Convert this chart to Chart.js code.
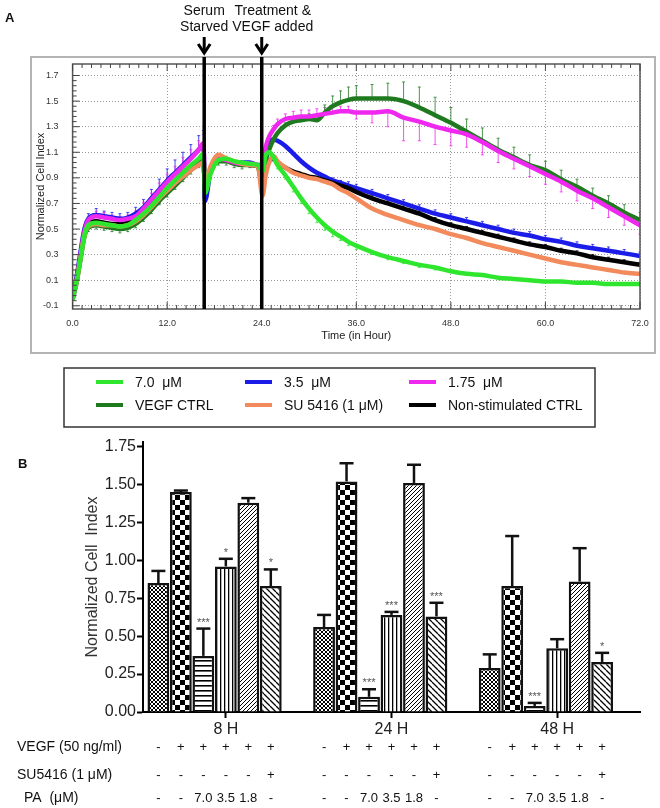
<!DOCTYPE html>
<html>
<head>
<meta charset="utf-8">
<script src="https://cdn.jsdelivr.net/npm/chart.js@4.4.1/dist/chart.umd.min.js"></script>
<style>
  html, body { margin: 0; padding: 0; background: #fff; }
  body { width: 660px; height: 808px; position: relative; overflow: hidden; }
  #cellA { position: absolute; left: 0; top: 0; }
  #cellB { position: absolute; left: 0; top: 430px; }
</style>
</head>
<body>
<canvas id="cellA" width="660" height="440"></canvas>
<canvas id="cellB" width="660" height="378"></canvas>
<script>
// ---- Panel A : real-time cell index ----
const hours = [0, 0.5, 1, 1.5, 2, 3, 4, 5, 6, 7, 8, 9, 10, 11, 12, 13, 14, 15, 16, 16.6,
  16.8, 17.5, 18.5, 19.5, 20.5, 21.5, 22.5, 23.5,
  24.1, 24.5, 25, 25.5, 26, 27, 28, 29, 30, 31, 32, 33, 34, 35, 36,
  38, 40, 42, 44, 46, 48, 50, 52, 54, 56, 58, 60, 62, 64, 66, 68, 70, 72];

const pa70 = [-0.05, 0.09, 0.27, 0.45, 0.53, 0.55, 0.54, 0.53, 0.52, 0.53, 0.57, 0.62, 0.68, 0.75, 0.82, 0.88, 0.94, 1.0, 1.05, 1.09,
  0.78, 0.93, 1.04, 1.05, 1.03, 1.02, 1.01, 1.0,
  0.95, 1.08, 1.1, 1.06, 1.0, 0.92, 0.83, 0.74, 0.66, 0.59, 0.53, 0.48, 0.44, 0.4, 0.37,
  0.32, 0.28, 0.25, 0.22, 0.2, 0.17, 0.15, 0.14, 0.12, 0.11, 0.1, 0.09, 0.09, 0.08, 0.08, 0.07, 0.07, 0.07];
const pa35 = [-0.03, 0.12, 0.32, 0.5, 0.58, 0.61, 0.6, 0.59, 0.58, 0.59, 0.62, 0.67, 0.74, 0.81, 0.88, 0.94, 1.0, 1.06, 1.12, 1.16,
  0.72, 0.95, 1.04, 1.04, 1.02, 1.02, 1.02, 1.0,
  1.0, 1.12, 1.19, 1.2, 1.19, 1.15, 1.09, 1.03, 0.98, 0.94, 0.91, 0.88, 0.86, 0.84, 0.82,
  0.78, 0.74, 0.7, 0.66, 0.62, 0.59, 0.56, 0.53, 0.5, 0.47, 0.45, 0.42, 0.4, 0.37, 0.35, 0.33, 0.31, 0.29];
const pa175 = [-0.05, 0.1, 0.3, 0.48, 0.57, 0.6, 0.59, 0.58, 0.57, 0.58, 0.6, 0.66, 0.73, 0.8, 0.87, 0.93, 0.99, 1.05, 1.12, 1.17,
  0.82, 0.97, 1.05, 1.04, 1.02, 1.01, 1.01, 1.0,
  0.98, 1.14, 1.23, 1.28, 1.32, 1.36, 1.37, 1.38, 1.38, 1.39, 1.4, 1.41, 1.42, 1.42, 1.41,
  1.41, 1.42, 1.37, 1.34, 1.3, 1.27, 1.24, 1.18, 1.11, 1.05, 0.99, 0.93, 0.87, 0.8, 0.74, 0.67, 0.6, 0.53];
const vegfCtrl = [-0.05, 0.08, 0.26, 0.44, 0.51, 0.53, 0.52, 0.51, 0.5, 0.51, 0.54, 0.59, 0.65, 0.72, 0.78, 0.84, 0.9, 0.96, 1.01, 1.05,
  0.8, 0.94, 1.03, 1.03, 1.01, 1.0, 1.0, 0.99,
  0.93, 1.04, 1.13, 1.2, 1.25, 1.31, 1.34, 1.35, 1.36, 1.35, 1.41, 1.46, 1.49, 1.51, 1.52,
  1.52, 1.52, 1.5, 1.45, 1.39, 1.33, 1.26, 1.19, 1.12, 1.06, 1.0, 0.96, 0.89, 0.83, 0.76, 0.7, 0.63, 0.57];
const su5416 = [-0.03, 0.09, 0.27, 0.45, 0.52, 0.54, 0.53, 0.53, 0.52, 0.53, 0.56, 0.61, 0.67, 0.74, 0.8, 0.86, 0.91, 0.96, 1.0, 1.02,
  0.85, 0.99, 1.08, 1.05, 1.03, 1.01, 1.0, 0.99,
  0.76, 0.92, 1.03, 1.07, 1.03, 0.98, 0.94, 0.92, 0.9, 0.89, 0.87, 0.85, 0.81, 0.78, 0.74,
  0.66, 0.61, 0.57, 0.53, 0.5, 0.46, 0.43, 0.39, 0.36, 0.33, 0.3, 0.27, 0.24, 0.22, 0.2, 0.18, 0.16, 0.15];
const nonStim = [-0.04, 0.1, 0.28, 0.46, 0.54, 0.56, 0.55, 0.54, 0.54, 0.55, 0.58, 0.63, 0.69, 0.76, 0.82, 0.88, 0.94, 0.99, 1.03, 1.06,
  0.83, 0.97, 1.06, 1.04, 1.02, 1.01, 1.0, 0.99,
  0.84, 0.98, 1.04, 1.05, 1.02, 0.98, 0.95, 0.93, 0.91, 0.9, 0.88, 0.86, 0.84, 0.82, 0.79,
  0.74, 0.7, 0.66, 0.62, 0.57, 0.53, 0.5, 0.47, 0.44, 0.41, 0.38, 0.36, 0.33, 0.31, 0.28, 0.26, 0.24, 0.22];

// one-sided SD bars: positive = drawn upward, negative = downward
const err70 = [0, 0, 0, 0, 0, 0, 0, 0, -0.03, -0.03, -0.03, -0.04, -0.04, -0.04, -0.05, -0.05, -0.05, -0.05, -0.05, -0.05,
  0, -0.03, 0.03, 0.02, 0, 0, 0, 0,
  0, 0, 0, 0, -0.03, -0.03, -0.04, -0.04, -0.04, -0.04, -0.04, -0.04, -0.03, -0.03, -0.03,
  -0.02, -0.02, -0.02, -0.02, -0.02, 0, 0, 0, 0, 0, 0, 0, 0, 0, 0, 0, 0, 0];
const err35 = [0, 0.06, 0.04, 0, 0.04, 0.05, 0.04, 0.04, 0.04, 0.04, 0.05, 0.06, 0.07, 0.08, 0.09, 0.1, 0.1, 0.1, 0.11, 0.11,
  0, 0, 0, 0, 0, 0, 0, 0,
  0, 0, 0, 0, 0, 0, 0, 0, 0, 0, 0, 0.02, 0.02, 0.03, 0.03,
  0.03, 0.03, 0.03, 0.03, 0.03, 0.03, 0.03, 0.03, 0.03, 0.03, 0.03, 0.03, 0.03, 0.03, 0.03, 0.03, 0.03, 0.03];
const err175 = [0, 0, 0, 0, 0.03, 0.04, 0.04, 0.03, 0.03, 0.03, 0.04, 0.05, 0.05, 0.06, 0.06, 0.06, 0.07, 0.07, 0.07, 0.07,
  0, 0, 0, 0, 0, 0, 0, 0,
  0, 0, 0, 0.03, 0.04, 0.04, 0.05, 0.05, 0.05, 0.05, 0.05, 0.05, 0.04, 0.04, -0.05,
  -0.08, -0.12, -0.18, -0.15, -0.14, -0.12, -0.1, -0.1, -0.09, -0.08, -0.08, -0.08, -0.08, -0.08, -0.08, -0.08, -0.07, -0.07];
const errVegf = [0, 0, 0, 0, -0.03, -0.03, -0.03, -0.03, -0.03, -0.03, -0.03, -0.03, -0.03, -0.03, -0.03, -0.03, -0.03, -0.03, -0.03, -0.03,
  0, 0, -0.03, -0.03, -0.03, -0.03, -0.02, 0,
  0, 0, 0, 0, 0, 0.02, 0.03, 0.03, 0.04, 0.05, 0.06, 0.08, 0.09, 0.1, 0.1,
  0.11, 0.12, 0.15, 0.16, 0.14, 0.12, 0.1, 0.1, 0.09, 0.08, 0.08, 0.07, 0.07, 0.06, 0.06, 0.06, 0.06, 0.06];
const errNon = [0, 0, 0, 0, 0, 0, 0, 0, 0, 0, 0, 0, 0, 0, 0, 0, 0, 0, 0, 0,
  0, 0, 0, 0, 0, 0, 0, 0,
  0, 0, 0, 0, 0, 0, 0, 0, 0, 0, 0, 0, 0.02, 0.02, 0.02,
  0.02, 0.02, 0.02, 0.02, 0.02, 0.02, 0.02, 0.02, 0.02, 0.02, 0.02, 0.02, 0.02, 0.02, 0.02, 0.02, 0.02, 0.02];

const seriesNames = ['7.0  μM', '3.5  μM', '1.75  μM', 'VEGF CTRL', 'SU 5416 (1 μM)', 'Non-stimulated CTRL'];
const xTicksA = [0, 12, 24, 36, 48, 60, 72];
const yTicksA = [-0.1, 0.1, 0.3, 0.5, 0.7, 0.9, 1.1, 1.3, 1.5, 1.7];
const eventHours = [16.7, 24];
const eventLabels = [['Serum', 'Starved'], ['Treatment &', 'VEGF added']];

// ---- Panel B : bar summary ----
const groupLabels = ['8 H', '24 H', '48 H'];
const nonStimB = [0.85, 0.56, 0.29];
const vegfB = [1.45, 1.52, 0.83];
const pa70B = [0.37, 0.10, 0.04];
const pa35B = [0.96, 0.64, 0.42];
const pa18B = [1.38, 1.51, 0.86];
const suB = [0.83, 0.63, 0.33];
const nonStimErr = [0.08, 0.08, 0.09];
const vegfErr = [0.01, 0.12, 0.33];
const pa70Err = [0.18, 0.05, 0.02];
const pa35Err = [0.05, 0.02, 0.06];
const pa18Err = [0.03, 0.12, 0.22];
const suErr = [0.11, 0.09, 0.06];
const nonStimSig = ['', '', ''];
const vegfSig = ['', '', ''];
const pa70Sig = ['***', '***', '***'];
const pa35Sig = ['*', '***', ''];
const pa18Sig = ['', '', ''];
const suSig = ['*', '***', '*'];
const yTicksB = [0, 0.25, 0.5, 0.75, 1.0, 1.25, 1.5, 1.75];
const rowNames = ['VEGF (50 ng/ml)', 'SU5416 (1 μM)', 'PA  (μM)'];
const vegfRow = ['-', '+', '+', '+', '+', '+'];
const su5416Row = ['-', '-', '-', '-', '-', '+'];
const paRow = ['-', '-', '7.0', '3.5', '1.8', '-'];

const sans = '"Liberation Sans", Arial, sans-serif';
const narrow = '"Liberation Sans Narrow", "Arial Narrow", "Liberation Sans", sans-serif';

function seg(ctx, x1, y1, x2, y2) {
  ctx.beginPath(); ctx.moveTo(x1, y1); ctx.lineTo(x2, y2); ctx.stroke();
}

// ---------- Chart A ----------
const valuesA = [pa70, pa35, pa175, vegfCtrl, su5416, nonStim];
const errorsA = [err70, err35, err175, errVegf, null, errNon];
const lineColors = ['#2fe62f', '#1c1ce8', '#ee28ee', '#1f7a1f', '#f28a5c', '#000000'];
const drawOrder = [0, 5, 2, 3, 1, 4];

const panelA = {
  id: 'panelA',
  beforeDatasetsDraw(chart) {
    const { ctx, chartArea: a, scales: { x, y } } = chart;
    ctx.save();
    ctx.beginPath(); ctx.rect(a.left, a.top, a.right - a.left, a.bottom - a.top); ctx.clip();
    ctx.lineWidth = 1;
    ctx.globalAlpha = 0.8;
    errorsA.forEach((err, i) => {
      if (!err) return;
      ctx.strokeStyle = lineColors[i];
      err.forEach((e, j) => {
        if (!e) return;
        const px = x.getPixelForValue(hours[j]);
        const y0 = y.getPixelForValue(valuesA[i][j]);
        const y1 = y.getPixelForValue(valuesA[i][j] + e);
        seg(ctx, px, y0, px, y1);
        seg(ctx, px - 1.5, y1, px + 1.5, y1);
      });
    });
    ctx.restore();
  },
  afterDraw(chart) {
    const { ctx, chartArea: a, scales: { x, y } } = chart;
    ctx.save();
    // outer figure frame
    ctx.strokeStyle = '#b4b4b4'; ctx.lineWidth = 2;
    ctx.strokeRect(31, 57, 624, 296);
    // plot frame
    ctx.strokeStyle = '#555'; ctx.lineWidth = 1.5;
    ctx.strokeRect(a.left, a.top, a.right - a.left, a.bottom - a.top);
    // minor and major inner ticks
    ctx.lineWidth = 1; ctx.strokeStyle = '#444';
    for (let k = 0; k <= 60; k++) {
      const px = x.getPixelForValue(k * 1.2);
      const len = k % 10 === 0 ? 7 : 4;
      seg(ctx, px, a.bottom, px, a.bottom - len);
      seg(ctx, px, a.top, px, a.top + len);
    }
    for (let k = 0; k <= 45; k++) {
      const py = y.getPixelForValue(-0.1 + k * 0.04);
      const len = k % 5 === 0 ? 7 : 4;
      seg(ctx, a.left, py, a.left + len, py);
    }
    // event markers
    ctx.font = '14px ' + sans; ctx.textAlign = 'center'; ctx.textBaseline = 'alphabetic';
    ctx.fillStyle = '#111';
    const shift = [0, 11];
    eventHours.forEach((h, i) => {
      const px = x.getPixelForValue(h);
      ctx.strokeStyle = '#000'; ctx.lineWidth = 3.5;
      seg(ctx, px, 57, px, a.bottom);
      ctx.lineWidth = 3;
      seg(ctx, px, 37, px, 53);
      ctx.beginPath(); ctx.moveTo(px - 6, 44); ctx.lineTo(px, 53); ctx.lineTo(px + 6, 44); ctx.stroke();
      eventLabels[i].forEach((t, r) => ctx.fillText(t, px + shift[i], 15 + r * 16));
    });
    // legend box
    ctx.strokeStyle = '#333'; ctx.lineWidth = 1.5;
    ctx.strokeRect(64, 368, 531, 59);
    const cols = [96, 245, 409], rows = [382, 405];
    ctx.font = '14px ' + sans; ctx.textAlign = 'left'; ctx.textBaseline = 'middle';
    chart.data.datasets.forEach((ds, i) => {
      const cx = cols[i % 3], cy = rows[Math.floor(i / 3)];
      ctx.strokeStyle = ds.borderColor; ctx.lineWidth = 4;
      seg(ctx, cx, cy, cx + 27, cy);
      ctx.fillStyle = '#111';
      ctx.fillText(ds.label, cx + 39, cy + 1);
    });
    // panel letter
    ctx.font = 'bold 13px ' + sans; ctx.textBaseline = 'alphabetic';
    ctx.fillText('A', 5, 22);
    ctx.restore();
  }
};

new Chart(document.getElementById('cellA'), {
  type: 'line',
  data: {
    datasets: seriesNames.map((name, i) => ({
      label: name,
      data: hours.map((h, j) => ({ x: h, y: valuesA[i][j] })),
      borderColor: lineColors[i],
      borderWidth: 4.5,
      pointRadius: 0,
      fill: false,
      cubicInterpolationMode: 'monotone',
      order: drawOrder[i]
    }))
  },
  options: {
    responsive: false,
    animation: false,
    devicePixelRatio: 1,
    layout: { padding: { left: 32, top: 64, right: 20, bottom: 95 } },
    plugins: { legend: { display: false }, tooltip: { enabled: false } },
    scales: {
      x: {
        type: 'linear', min: 0, max: 72,
        afterBuildTicks: s => { s.ticks = xTicksA.map(v => ({ value: v })); },
        afterFit: s => { s.height = 36; },
        ticks: { callback: v => v.toFixed(1), font: { family: narrow, size: 9 }, color: '#333', padding: 9, maxRotation: 0 },
        grid: { color: '#9a9a9a', lineWidth: 1, drawTicks: false },
        border: { display: false, dash: [1, 2] },
        title: { display: true, text: 'Time (in Hour)', font: { family: narrow, size: 11 }, color: '#222', padding: { top: 0, bottom: 2 } }
      },
      y: {
        min: -0.125, max: 1.79,
        afterBuildTicks: s => { s.ticks = yTicksA.map(v => ({ value: v })); },
        afterFit: s => { s.width = 40.6; },
        ticks: { callback: v => v.toFixed(1), font: { family: narrow, size: 9 }, color: '#333', padding: 14 },
        grid: { color: '#9a9a9a', lineWidth: 1, drawTicks: false },
        border: { display: false, dash: [1, 2] },
        title: { display: true, text: 'Normalized Cell Index', font: { family: sans, size: 11 }, color: '#222', padding: { top: 2, bottom: 0 } }
      }
    }
  },
  plugins: [panelA]
});

// ---------- Chart B ----------
function makePattern(kind) {
  const c = document.createElement('canvas');
  const g = c.getContext('2d');
  const s = { cross: 4, checker: 10, hlines: 5, vlines: 4, fwd: 4, back: 6 }[kind];
  c.width = s; c.height = s;
  g.fillStyle = '#fff'; g.fillRect(0, 0, s, s);
  g.fillStyle = '#000'; g.strokeStyle = '#000';
  if (kind === 'checker') {
    g.fillRect(0, 0, s / 2, s / 2); g.fillRect(s / 2, s / 2, s / 2, s / 2);
  } else if (kind === 'hlines') {
    g.fillRect(0, 0, s, 1.6);
  } else if (kind === 'vlines') {
    g.fillRect(0, 0, 1.3, s);
  } else {
    g.lineWidth = kind === 'back' ? 1.3 : 1;
    g.beginPath();
    for (const k of [-1, 0, 1]) {
      if (kind === 'back' || kind === 'cross') { g.moveTo(k * s, 0); g.lineTo(k * s + s, s); }
      if (kind === 'fwd' || kind === 'cross') { g.moveTo(k * s, s); g.lineTo(k * s + s, 0); }
    }
    g.stroke();
  }
  return g.createPattern(c, 'repeat');
}

const barValues = [nonStimB, vegfB, pa70B, pa35B, pa18B, suB];
const barErrors = [nonStimErr, vegfErr, pa70Err, pa35Err, pa18Err, suErr];
const barSig = [nonStimSig, vegfSig, pa70Sig, pa35Sig, pa18Sig, suSig];
const barFills = ['cross', 'checker', 'hlines', 'vlines', 'fwd', 'back'];
const tableRows = [vegfRow, su5416Row, paRow];

const panelB = {
  id: 'panelB',
  afterDatasetsDraw(chart) {
    const { ctx, scales: { y } } = chart;
    ctx.save();
    ctx.strokeStyle = '#111'; ctx.lineWidth = 2.5;
    ctx.font = '11px ' + sans; ctx.fillStyle = '#555'; ctx.textAlign = 'center'; ctx.textBaseline = 'alphabetic';
    barValues.forEach((vals, i) => {
      const meta = chart.getDatasetMeta(i);
      meta.data.forEach((el, g) => {
        const top = y.getPixelForValue(vals[g] + barErrors[i][g]);
        seg(ctx, el.x, el.y, el.x, top);
        seg(ctx, el.x - 7, top, el.x + 7, top);
        if (barSig[i][g]) ctx.fillText(barSig[i][g], el.x, top - 3);
      });
    });
    ctx.restore();
  },
  afterDraw(chart) {
    const { ctx } = chart;
    ctx.save();
    ctx.fillStyle = '#111'; ctx.textBaseline = 'middle';
    const rowY = [317, 345, 368], rowX = [17, 17, 24];
    rowNames.forEach((name, r) => {
      ctx.font = '14px ' + sans; ctx.textAlign = 'left';
      ctx.fillText(name, rowX[r], rowY[r]);
      ctx.font = '13px ' + sans; ctx.textAlign = 'center';
      tableRows[r].forEach((sym, i) => {
        chart.getDatasetMeta(i).data.forEach(el => ctx.fillText(sym, el.x, rowY[r]));
      });
    });
    ctx.font = 'bold 13px ' + sans; ctx.textAlign = 'left'; ctx.textBaseline = 'alphabetic';
    ctx.fillText('B', 18, 38);
    ctx.restore();
  }
};

const barNames = ['Non-stimulated', 'VEGF', 'VEGF + PA 7.0 μM', 'VEGF + PA 3.5 μM', 'VEGF + PA 1.8 μM', 'VEGF + SU5416'];
const barSets = barValues.map((vals, i) => ({
  label: barNames[i],
  data: vals,
  backgroundColor: makePattern(barFills[i]),
  borderColor: '#111',
  borderWidth: 2.5,
  borderSkipped: 'bottom'
}));
// empty trailing slot: Prism leaves the bars left of the group tick
barSets.push({ label: '', data: [null, null, null] });

new Chart(document.getElementById('cellB'), {
  type: 'bar',
  data: { labels: groupLabels, datasets: barSets },
  options: {
    responsive: false,
    animation: false,
    devicePixelRatio: 1,
    categoryPercentage: 0.95,
    barPercentage: 0.97,
    layout: { padding: { left: 83, top: 12, right: 20, bottom: 66 } },
    plugins: { legend: { display: false }, tooltip: { enabled: false } },
    scales: {
      x: {
        afterFit: s => { s.height = 30; },
        grid: { display: true, drawOnChartArea: false, offset: false, tickLength: 6, tickWidth: 2, tickColor: '#000' },
        border: { display: true, color: '#000', width: 2 },
        ticks: { font: { family: sans, size: 16 }, color: '#222', padding: 2 }
      },
      y: {
        min: 0, max: 1.78,
        afterBuildTicks: s => { s.ticks = yTicksB.map(v => ({ value: v })); },
        afterFit: s => { s.width = 60; },
        grid: { display: true, drawOnChartArea: false, tickLength: 6, tickWidth: 2, tickColor: '#000' },
        border: { display: true, color: '#000', width: 2 },
        ticks: { callback: v => v.toFixed(2), font: { family: sans, size: 16 }, color: '#222', padding: 1 },
        title: { display: true, text: 'Normalized Cell  Index', font: { family: sans, size: 16 }, color: '#333', padding: 0 }
      }
    }
  },
  plugins: [panelB]
});
</script>
</body>
</html>
